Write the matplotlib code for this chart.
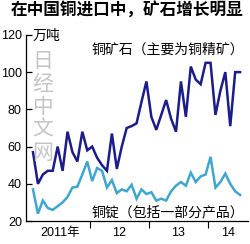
import matplotlib
matplotlib.use("Agg")
import matplotlib.pyplot as plt
from matplotlib.ticker import FixedLocator, NullFormatter, FixedFormatter

plt.rcParams["font.family"] = ["Liberation Sans", "Noto Sans CJK SC"]

# monthly imports, Jan 2011 - Jul 2014 (10k tonnes)
ore = [57, 40, 45, 47, 47, 60, 47, 68, 57, 52,
       68, 58, 60, 54, 50, 47, 67, 48, 60, 70,
       71, 72.5, 84, 95, 76, 69, 77, 85, 75, 68,
       95, 76, 103, 96, 93.5, 105, 105, 77, 90, 100,
       71, 100, 100]
cathode = [37, 24, 31, 27, 26, 28, 30, 33, 38, 38.5,
           45, 52, 41.5, 48.5, 47, 38, 42, 35, 37, 36,
           39.5, 32, 37, 34.5, 35.5, 31, 32, 31, 36, 39,
           41, 39, 46, 41, 44, 45, 54.5, 38, 41, 45.5,
           40, 36, 34]
year_labels = ["2011年", "12", "13", "14"]
year_label_pos = [5.5, 17.5, 29.5, 39.5]
year_breaks = [11.5, 23.5, 35.5]
y_ticks = [20, 40, 60, 80, 100, 120]

months = list(range(len(ore)))

fig = plt.figure(figsize=(2.5, 2.44), dpi=100)
ax = fig.add_axes([0.104, 0.094, 0.888, 0.763])

ax.plot(months, ore, color="#1c1c8a", lw=1.8, solid_joinstyle="miter")
ax.plot(months, cathode, color="#3ea6cf", lw=1.8, solid_joinstyle="miter")

ax.set_xlim(-1.42, 43.6)
ax.set_ylim(20, 120)

for side in ["top", "right"]:
    ax.spines[side].set_visible(False)
ax.spines["left"].set_linewidth(0.9)
ax.spines["bottom"].set_linewidth(0.9)

ax.set_yticks(y_ticks)
ax.tick_params(axis="y", direction="in", length=4, width=0.9, labelsize=9, pad=3)

ax.xaxis.set_major_locator(FixedLocator(year_breaks))
ax.xaxis.set_major_formatter(NullFormatter())
ax.xaxis.set_minor_locator(FixedLocator(year_label_pos))
ax.xaxis.set_minor_formatter(FixedFormatter(year_labels))
ax.tick_params(axis="x", which="major", direction="out", length=5, width=0.8)
ax.tick_params(axis="x", which="minor", length=0, labelsize=9, pad=4)

# watermark
for i, ch in enumerate("日经中文网"):
    fig.text(0.172, 0.750 - i * 0.094, ch, fontsize=15, color="#c4c4c4",
             family=["Noto Sans CJK SC"], ha="center", va="center", fontweight="light")

fig.text(0.508, 0.958, "在中国铜进口中，矿石增长明显", fontsize=12, fontweight="bold",
         family=["Noto Sans CJK SC"], ha="center", va="center")
fig.text(0.132, 0.852, "万吨", fontsize=10, family=["Noto Sans CJK SC"], va="center")
fig.text(0.368, 0.795, "铜矿石（主要为铜精矿）", fontsize=10,
         family=["Noto Sans CJK SC"], va="center")
fig.text(0.368, 0.131, "铜锭（包括一部分产品）", fontsize=10,
         family=["Noto Sans CJK SC"], va="center")

fig.savefig("out.png", dpi=100)
